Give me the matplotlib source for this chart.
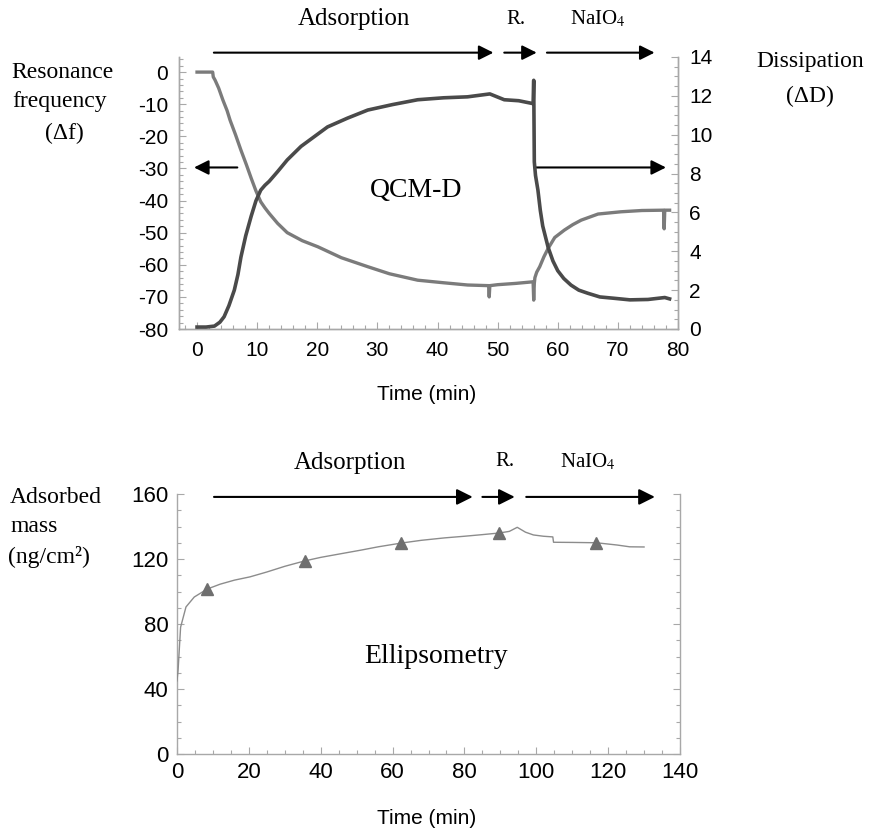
import matplotlib
matplotlib.use("Agg")
import matplotlib.pyplot as plt
from matplotlib.ticker import MultipleLocator
from matplotlib.transforms import blended_transform_factory

plt.rcParams['font.family'] = ['Liberation Sans', 'DejaVu Sans']
plt.rcParams['mathtext.fontset'] = 'stix'

# ---------------- QCM-D data ----------------
# Resonance frequency shift (left axis)
freq_t = [0.0, 1.0, 2.0, 2.6, 2.7, 3.0, 3.6, 4.3, 5.0, 5.5, 6.4, 7.3, 8.2, 9.0, 9.8, 10.6, 11.3, 12.0,
          13.4, 15.0, 17.5, 20.1, 24.0, 28.4, 32.0, 36.7, 41.0, 45.0, 48.5, 48.6, 48.7, 50.0, 53.0,
          55.9, 56.0, 56.1, 56.2, 56.5, 57.0, 57.7, 58.4, 59.5, 61.1, 62.5, 63.9, 66.7, 70.5, 74.0,
          77.6, 77.7, 77.8, 78.6]
freq_v = [0.0, 0.0, 0.0, 0.0, -1.5, -2.5, -5.0, -8.7, -12.0, -15.0, -19.5, -24.3, -28.8, -33.0, -37.0, -40.4, -42.3, -44.0,
          -47.1, -50.0, -52.5, -54.4, -57.8, -60.6, -62.8, -64.8, -65.6, -66.3, -66.5, -70.0, -66.5, -66.2, -65.8,
          -65.3, -71.0, -65.8, -64.0, -62.3, -60.6, -57.5, -54.9, -51.5, -49.2, -47.5, -46.1, -44.2, -43.5, -43.1,
          -43.0, -48.8, -43.0, -43.0]

# Dissipation shift (right axis)
diss_t = [0.0, 1.5, 2.9, 3.8, 4.5, 5.3, 6.2, 6.8, 7.3, 8.1, 9.0, 9.8, 10.6, 11.3, 12.0, 13.4, 15.0, 17.3,
          19.5, 21.7, 25.0, 28.4, 32.5, 36.7, 41.0, 45.0, 48.7, 51.1, 53.5, 55.9, 56.0, 56.1, 56.3,
          56.7, 57.1, 57.5, 58.4, 59.2, 60.0, 61.0, 62.2, 63.5, 65.0, 67.0, 69.4, 72.0, 75.0, 77.8, 78.6]
diss_v = [0.1, 0.1, 0.15, 0.35, 0.63, 1.2, 2.0, 2.8, 3.7, 4.8, 5.8, 6.6, 7.15, 7.4, 7.6, 8.1, 8.7, 9.4,
          9.9, 10.4, 10.85, 11.27, 11.55, 11.8, 11.9, 11.95, 12.1, 11.8, 11.75, 11.6, 12.8, 8.6, 7.9,
          7.15, 6.1, 5.3, 4.2, 3.5, 3.0, 2.6, 2.26, 2.0, 1.84, 1.65, 1.58, 1.5, 1.52, 1.62, 1.55]

# ---------------- Ellipsometry data ----------------
mass_t = [0.0, 0.3, 1.0, 2.5, 4.8, 8.4, 12.0, 16.0, 20.3, 25.0, 30.0, 35.5, 40.0, 45.0, 51.3,
          56.0, 62.4, 68.0, 74.5, 80.0, 85.0, 89.7, 92.5, 94.7, 97.0, 99.2, 102.0, 104.6, 104.8,
          110.0, 116.7, 122.5, 126.0, 130.0]
mass_v = [45.0, 51.6, 78.0, 90.5, 96.6, 101.5, 104.5, 107.0, 109.0, 112.0, 115.5, 118.8, 121.0, 123.0, 125.5,
          127.5, 129.8, 131.5, 133.0, 134.0, 135.0, 136.0, 137.0, 139.5, 136.5, 134.8, 134.0, 133.6, 130.3,
          130.2, 130.0, 128.6, 127.5, 127.4]
marker_t = [8.4, 35.5, 62.4, 89.7, 116.7]
marker_v = [101.5, 118.8, 129.8, 136.0, 130.0]

phase_labels = ["Adsorption", "R.", "NaIO$_4$"]

W, H = 871, 832
fig = plt.figure(figsize=(W / 100, H / 100), dpi=100)


def fx(px):
    return px / W


def fy(py):
    return 1 - py / H


SERIF = ['Liberation Serif', 'DejaVu Serif']
SPINE = '#a8a8a8'

# ---------------- Top panel ----------------
ax = fig.add_axes([fx(179), fy(329), fx(678) - fx(179), fy(57) - fy(329)])
ax2 = ax.twinx()
ax.plot(freq_t, freq_v, color='#7b7b7b', lw=2.4, solid_joinstyle='round', zorder=3)
ax2.plot(diss_t, diss_v, color='#4a4a4a', lw=2.6, solid_joinstyle='round', zorder=3)
ax.set_xlim(-3, 80)
ax.set_ylim(-80, 4.7)
ax2.set_ylim(0, 14)
ax.xaxis.set_major_locator(MultipleLocator(10))
ax.xaxis.set_minor_locator(MultipleLocator(2))
ax.yaxis.set_major_locator(MultipleLocator(10))
ax.yaxis.set_minor_locator(MultipleLocator(2))
ax2.yaxis.set_major_locator(MultipleLocator(2))
ax2.yaxis.set_minor_locator(MultipleLocator(0.5))
for a in (ax, ax2):
    a.spines['top'].set_visible(False)
    for s in ('left', 'right', 'bottom'):
        a.spines[s].set_color(SPINE)
        a.spines[s].set_linewidth(1.0)
    a.tick_params(which='both', direction='in', color=SPINE, labelsize=15, width=0.8)
    a.tick_params(which='major', length=5)
    a.tick_params(which='minor', length=3)
ax.tick_params(axis='y', pad=8)
ax.tick_params(axis='x', pad=9)
ax2.tick_params(axis='y', pad=8)
ax.set_yticks(range(-80, 1, 10))
ax.set_yticklabels([str(v) for v in range(-80, 1, 10)])

# arrows above top panel
tr = blended_transform_factory(ax.transData, ax.transAxes)
arr_kw = dict(arrowstyle='-|>', color='black', lw=1.5, mutation_scale=22, shrinkA=0, shrinkB=0)
for x0, x1 in [(2.8, 49.3), (51.1, 56.5), (58.2, 76.1)]:
    ax.annotate('', xy=(x1, 1.016), xytext=(x0, 1.016), xycoords=tr, textcoords=tr,
                arrowprops=arr_kw, annotation_clip=False)
ax.annotate('', xy=(-0.5, -29.7), xytext=(6.7, -29.7), arrowprops=arr_kw, annotation_clip=False)
ax.annotate('', xy=(78.0, -29.7), xytext=(56.4, -29.7), arrowprops=arr_kw, annotation_clip=False)
ax.text(36.4, -36.8, "QCM-D", family=SERIF, fontsize=20, ha='center', va='center')

fig.text(fx(354), fy(19), phase_labels[0], family=SERIF, fontsize=18, ha='center', va='center')
fig.text(fx(516), fy(19), phase_labels[1], family=SERIF, fontsize=15, ha='center', va='center')
fig.text(fx(598), fy(19), phase_labels[2], family=SERIF, fontsize=15, ha='center', va='center')
fig.text(fx(62), fy(72), "Resonance", family=SERIF, fontsize=17, ha='center', va='center')
fig.text(fx(60), fy(101), "frequency", family=SERIF, fontsize=17, ha='center', va='center')
fig.text(fx(64), fy(133), "(\u0394f)", family=SERIF, fontsize=17, ha='center', va='center')
fig.text(fx(810), fy(62), "Dissipation", family=SERIF, fontsize=17, ha='center', va='center')
fig.text(fx(810), fy(96), "(\u0394D)", family=SERIF, fontsize=17, ha='center', va='center')
fig.text(fx(427), fy(395), "Time (min)", fontsize=15, ha='center', va='center')

# ---------------- Bottom panel ----------------
bx = fig.add_axes([fx(177), fy(754), fx(680) - fx(177), fy(494) - fy(754)])
bx.plot(mass_t, mass_v, color='#8c8c8c', lw=1.0, zorder=3)
bx.plot(marker_t, marker_v, ls='none', marker='^', color='#6f6f6f', markersize=9, zorder=4)
bx.set_xlim(0, 140)
bx.set_ylim(0, 160)
bx.xaxis.set_major_locator(MultipleLocator(20))
bx.xaxis.set_minor_locator(MultipleLocator(5))
bx.yaxis.set_major_locator(MultipleLocator(40))
bx.yaxis.set_minor_locator(MultipleLocator(10))
bx.spines['top'].set_visible(False)
for s in ('left', 'right', 'bottom'):
    bx.spines[s].set_color(SPINE)
    bx.spines[s].set_linewidth(1.0)
bx.tick_params(which='both', direction='in', color=SPINE, labelsize=16, width=0.8,
               right=True, labelright=False)
bx.tick_params(which='major', length=5)
bx.tick_params(which='minor', length=3)
bx.tick_params(axis='y', pad=6)
bx.tick_params(axis='x', pad=6)

arr_kw2 = dict(arr_kw, mutation_scale=24)
for x0, x1 in [(10.3, 82.3), (85.0, 94.0), (97.2, 133.0)]:
    bx.annotate('', xy=(x1, 158.2), xytext=(x0, 158.2), arrowprops=arr_kw2, annotation_clip=False)
bx.text(72, 60, "Ellipsometry", family=SERIF, fontsize=20, ha='center', va='center')

fig.text(fx(350), fy(463), phase_labels[0], family=SERIF, fontsize=18, ha='center', va='center')
fig.text(fx(505), fy(462), phase_labels[1], family=SERIF, fontsize=15, ha='center', va='center')
fig.text(fx(588), fy(462), phase_labels[2], family=SERIF, fontsize=15, ha='center', va='center')
fig.text(fx(10), fy(497), "Adsorbed", family=SERIF, fontsize=17, ha='left', va='center')
fig.text(fx(10), fy(526), "mass", family=SERIF, fontsize=17, ha='left', va='center')
fig.text(fx(8), fy(557), "(ng/cm\u00b2)", family=SERIF, fontsize=17, ha='left', va='center')
fig.text(fx(427), fy(818), "Time (min)", fontsize=15, ha='center', va='center')

fig.savefig("out.png", dpi=100)
